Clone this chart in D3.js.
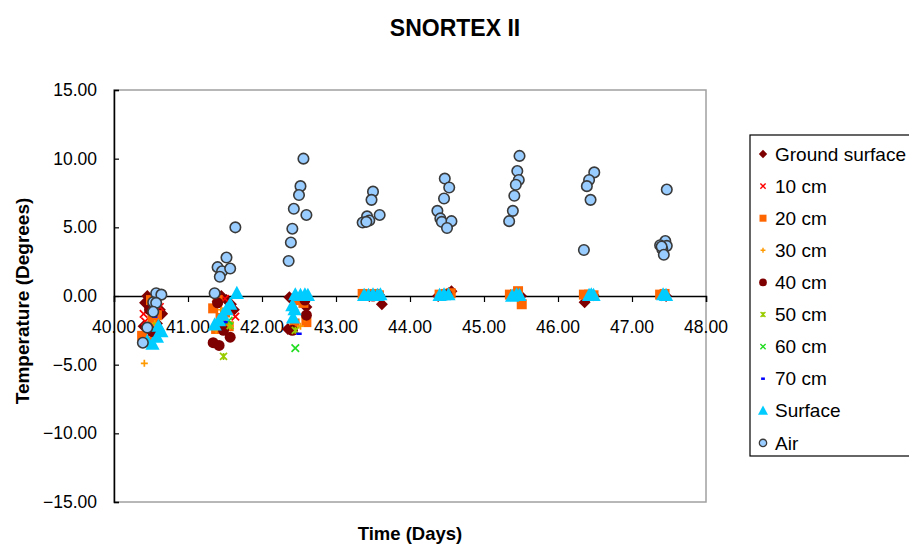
<!DOCTYPE html>
<html>
<head>
<meta charset="utf-8">
<script src="https://cdn.jsdelivr.net/npm/d3@7"></script>
<style>
  html, body { margin: 0; padding: 0; background: #fff; }
  svg { display: block; font-family: "Liberation Sans", Arial, sans-serif; }
</style>
</head>
<body>
<svg id="chart" width="909" height="546"></svg>
<script>
// ---------- DATA ----------
const chartTitle = "SNORTEX II";
const xTitle = "Time (Days)";
const yTitle = "Temperature (Degrees)";
const xTicks = [40, 41, 42, 43, 44, 45, 46, 47, 48];
const yTicks = [-15, -10, -5, 0, 5, 10, 15];
const seriesNames = ["Ground surface", "10 cm", "20 cm", "30 cm", "40 cm", "50 cm", "60 cm", "70 cm", "Surface", "Air"];

const groundSurface = [
  [40.42,-0.5],[40.45,0.0],[40.50,-0.2],[40.55,-0.8],[40.62,-1.0],[40.65,-1.3],[40.58,-2.0],[40.40,-2.2],
  [41.40,-0.4],[41.45,0.0],[41.48,-2.0],[41.52,-0.3],[41.58,-0.6],[41.62,-1.0],
  [42.35,-2.4],[42.37,-0.1],[42.52,-0.3],[42.56,-0.5],[42.60,-0.8],
  [43.38,0.1],[43.45,0.0],[43.52,0.05],[43.58,0.1],[43.62,-0.6],
  [44.38,0.0],[44.45,0.1],[44.52,0.2],[44.56,0.35],
  [45.36,0.05],[45.44,0.1],[45.50,0.0],
  [46.36,-0.45],[46.42,0.0],[46.48,0.05],
  [47.40,0.05],[47.46,0.0]
];
const cm10 = [[40.40,-1.3],[40.42,-1.85],[40.48,-2.8],[40.55,-0.3],[40.62,-0.8],[41.50,-0.2],[41.64,-1.5],[42.45,-0.2]];
const cm20 = [
  [40.38,-2.9],[40.45,-3.3],[40.50,-0.3],[40.52,-1.6],[40.55,-2.3],[40.58,-1.4],
  [41.34,-0.9],[41.38,-2.4],[41.40,-0.3],[41.44,-1.6],[41.50,-1.2],[41.55,-2.2],
  [42.44,-2.0],[42.48,-0.3],[42.56,-0.5],[42.60,-1.9],
  [43.36,0.15],[43.44,0.1],[43.52,0.15],[43.58,0.05],
  [44.40,0.1],[44.48,0.15],[44.55,0.2],
  [45.35,0.1],[45.46,0.35],[45.51,-0.6],
  [46.35,0.1],[46.42,0.1],[46.48,0.05],
  [47.38,0.1],[47.44,0.15]
];
const cm30 = [[40.41,-4.9],[40.55,-2.0],[41.38,-2.5],[41.57,-2.2],[41.45,-1.0],[42.52,-2.2],[42.58,-1.6]];
const cm40 = [[40.48,-1.0],[40.52,-2.6],[41.34,-3.4],[41.40,-0.5],[41.42,-3.6],[41.48,-2.5],[41.57,-3.0],[42.41,-2.5],[42.58,-0.3],[42.60,-1.4],[43.50,0.0],[44.50,0.1]];
const cm50 = [[40.58,-2.2],[41.48,-4.4],[41.57,-2.15],[42.45,-2.5]];
const cm60 = [[41.55,-1.8],[42.45,-3.8]];
const cm70 = [[40.55,-1.5],[41.50,-1.9],[42.50,-2.75]];
const surface = [
  [40.45,-3.3],[40.52,-3.5],[40.58,-3.0],[40.60,-2.2],[40.64,-2.6],
  [41.36,-2.1],[41.42,-1.8],[41.47,-1.4],[41.52,-1.0],[41.57,-0.6],[41.66,0.2],
  [42.41,-0.7],[42.42,-1.6],[42.44,-1.0],[42.45,0.1],[42.52,0.05],[42.58,0.1],[42.62,0.05],
  [43.38,0.05],[43.44,0.05],[43.50,0.1],[43.56,0.05],[43.60,0.1],
  [44.40,0.05],[44.46,0.1],[44.52,0.1],
  [45.38,0.0],[45.44,0.1],[45.48,0.05],
  [46.42,0.05],[46.45,0.1],[46.48,0.05],
  [47.42,0.1],[47.46,0.05]
];
const air = [
  [40.57,0.2],[40.64,0.1],[40.53,-0.45],[40.57,-0.5],[40.53,-1.15],[40.45,-2.3],[40.39,-3.4],
  [41.64,5.0],[41.52,2.8],[41.40,2.1],[41.46,1.8],[41.43,1.4],[41.57,2.0],[41.36,0.2],
  [42.56,10.0],[42.52,8.0],[42.50,7.35],[42.43,6.35],[42.60,5.9],[42.41,4.9],[42.39,3.9],[42.36,2.55],
  [43.50,7.6],[43.48,7.0],[43.59,5.9],[43.42,5.8],[43.45,5.5],[43.36,5.35],[43.41,5.4],
  [44.47,8.55],[44.53,7.9],[44.46,7.1],[44.37,6.2],[44.41,5.65],[44.43,5.4],[44.56,5.45],[44.50,4.95],
  [45.48,10.2],[45.45,9.1],[45.47,8.45],[45.43,8.1],[45.41,7.3],[45.39,6.2],[45.34,5.45],
  [46.49,9.0],[46.42,8.45],[46.39,8.0],[46.44,7.0],[46.35,3.35],
  [47.47,7.75],[47.45,4.0],[47.38,3.7],[47.47,3.65],[47.41,3.4],[47.40,3.6],[47.43,3.0]
];
const seriesData = [groundSurface, cm10, cm20, cm30, cm40, cm50, cm60, cm70, surface, air];

// ---------- STYLE ----------
const styles = [
  {shape: "diamond", fill: "#7f0000", stroke: "none", size: 12},
  {shape: "x", fill: "none", stroke: "#ff0000", size: 10},
  {shape: "square", fill: "#ff6600", stroke: "none", size: 10},
  {shape: "plus", fill: "none", stroke: "#ff9900", size: 10},
  {shape: "circle", fill: "#7f0000", stroke: "none", size: 11},
  {shape: "asterisk", fill: "none", stroke: "#99cc00", size: 10},
  {shape: "x", fill: "none", stroke: "#22dd22", size: 10},
  {shape: "dash", fill: "none", stroke: "#0000ff", size: 9},
  {shape: "triangle", fill: "#00ccff", stroke: "none", size: 15},
  {shape: "circle", fill: "#99ccff", stroke: "#3a3a3a", size: 10.5, sw: 1.6}
];

function markerPath(shape, s) {
  const h = s / 2;
  switch (shape) {
    case "diamond": return `M0,${-h}L${h},0L0,${h}L${-h},0Z`;
    case "square": return `M${-h},${-h}H${h}V${h}H${-h}Z`;
    case "triangle": return `M0,${-h}L${h*0.95},${h*0.75}L${-h*0.95},${h*0.75}Z`;
    case "circle": return d3.symbol(d3.symbolCircle, Math.PI * h * h)();
    case "x": { const a = h * 0.75; return `M${-a},${-a}L${a},${a}M${-a},${a}L${a},${-a}`; }
    case "plus": return `M${-h*0.7},0H${h*0.7}M0,${-h*0.7}V${h*0.7}`;
    case "asterisk": { const a = h * 0.7; return `M${-a},${-a}L${a},${a}M${-a},${a}L${a},${-a}M0,${-a}V${a}`; }
    case "dash": return `M${-h*0.6},0H${h*0.6}`;
  }
}

// ---------- LAYOUT ----------
const svg = d3.select("#chart");
const plot = {left: 114, right: 706, top: 90, bottom: 502};
const x = d3.scaleLinear().domain([40, 48]).range([plot.left, plot.right]);
const y = d3.scaleLinear().domain([-15, 15]).range([plot.bottom, plot.top]);

// plot area border
svg.append("rect")
  .attr("x", plot.left).attr("y", plot.top)
  .attr("width", plot.right - plot.left).attr("height", plot.bottom - plot.top)
  .attr("fill", "none").attr("stroke", "#a0a0a0").attr("stroke-width", 1.5);

// y axis (ticks inside)
const yAxis = d3.axisRight(y).tickValues(yTicks).tickSize(5).tickFormat("");
const gy = svg.append("g").attr("transform", `translate(${plot.left},0)`).call(yAxis);
gy.select(".domain").attr("stroke", "#000").attr("stroke-width", 1.5);
gy.selectAll(".tick line").attr("stroke", "#000").attr("stroke-width", 1.2);
svg.append("g").selectAll("text").data(yTicks).join("text")
  .attr("x", 97).attr("y", d => y(d)).attr("dy", "0.35em")
  .attr("text-anchor", "end").attr("font-size", 17.5).attr("fill", "#000")
  .text(d => d3.format(".2f")(d));

// x axis at y = 0
const xAxis = d3.axisBottom(x).tickValues(xTicks).tickSize(6).tickSizeOuter(6).tickFormat("");
const gx = svg.append("g").attr("transform", `translate(0,${y(0)})`).call(xAxis);
gx.select(".domain").attr("stroke", "#000").attr("stroke-width", 1.5);
gx.selectAll(".tick line").attr("stroke", "#000").attr("stroke-width", 1.2);
svg.append("g").selectAll("text").data(xTicks).join("text")
  .attr("x", d => x(d)).attr("y", y(0) + 37).attr("text-anchor", "middle")
  .attr("font-size", 17.5).attr("fill", "#000")
  .text(d => d3.format(".2f")(d));

// series
const gs = svg.append("g");
seriesData.forEach((data, i) => {
  const st = styles[i];
  gs.append("g").selectAll("path").data(data).join("path")
    .attr("transform", d => `translate(${x(d[0])},${y(d[1])})`)
    .attr("d", markerPath(st.shape, st.size))
    .attr("fill", st.fill)
    .attr("stroke", st.stroke)
    .attr("stroke-width", st.sw || (st.shape === "dash" ? 2.5 : 1.7));
});

// titles
svg.append("text").attr("x", 455).attr("y", 36).attr("text-anchor", "middle")
  .attr("font-size", 23).attr("font-weight", "bold").text(chartTitle);
svg.append("text").attr("x", 410).attr("y", 540).attr("text-anchor", "middle")
  .attr("font-size", 18.5).attr("font-weight", "bold").text(xTitle);
svg.append("text").attr("transform", `translate(29,${y(0) + 5}) rotate(-90)`)
  .attr("text-anchor", "middle").attr("font-size", 19).attr("font-weight", "bold").text(yTitle);

// legend
const lg = svg.append("g");
lg.append("rect").attr("x", 750).attr("y", 135).attr("width", 170).attr("height", 321)
  .attr("fill", "#fff").attr("stroke", "#000").attr("stroke-width", 1.2);
const legendStep = 32.1;
seriesNames.forEach((name, i) => {
  const st = styles[i];
  const cy = 154 + i * legendStep;
  lg.append("path").attr("transform", `translate(763,${cy})`)
    .attr("d", markerPath(st.shape, st.size * 0.7))
    .attr("fill", st.fill).attr("stroke", st.stroke)
    .attr("stroke-width", st.sw ? 1.3 : (st.shape === "dash" ? 2.5 : 1.4));
  lg.append("text").attr("x", 775).attr("y", cy).attr("dy", "0.35em")
    .attr("font-size", 19).attr("fill", "#000").text(name);
});
</script>
</body>
</html>
